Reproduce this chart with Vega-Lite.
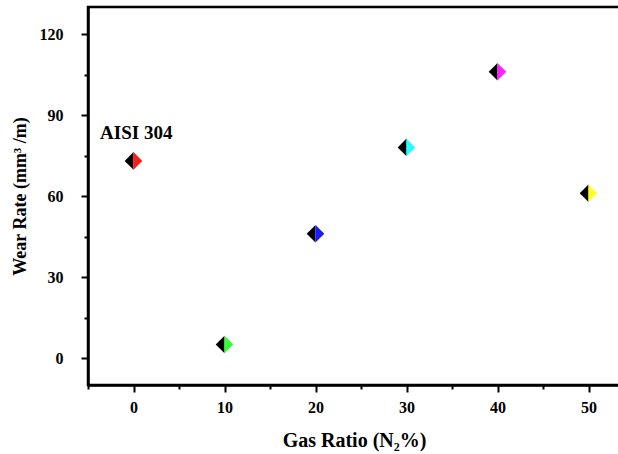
{
  "$schema": "https://vega.github.io/schema/vega-lite/v6.json",
  "width": 532,
  "height": 378,
  "autosize": "none",
  "padding": {"left": 88, "top": 7, "right": 0, "bottom": 69},
  "background": "white",
  "config": {
    "view": {"stroke": "black", "strokeWidth": 2.5},
    "font": "Liberation Serif",
    "axis": {
      "grid": false,
      "domainColor": "black",
      "domainWidth": 2.5,
      "tickColor": "black",
      "tickWidth": 2,
      "labelFont": "Liberation Serif",
      "labelFontWeight": "bold",
      "labelFontSize": 16,
      "labelColor": "black",
      "titleFont": "Liberation Serif",
      "titleFontWeight": "bold",
      "titleColor": "black"
    }
  },
  "datasets": {
    "pts": [
      {"ratio": 0, "rate": 73, "sample": "0"},
      {"ratio": 10, "rate": 5, "sample": "10"},
      {"ratio": 20, "rate": 46, "sample": "20"},
      {"ratio": 30, "rate": 78, "sample": "30"},
      {"ratio": 40, "rate": 106, "sample": "40"},
      {"ratio": 50, "rate": 61, "sample": "50"}
    ],
    "notes": [
      {"ratio": 0.3, "rate": 83.5, "label": "AISI 304"}
    ]
  },
  "layer": [
    {
      "data": {"name": "pts"},
      "mark": {"type": "point", "filled": true, "shape": "M0,-1L0,1L-1,0Z", "size": 310, "color": "black", "opacity": 1},
      "encoding": {
        "x": {
          "field": "ratio", "type": "quantitative",
          "scale": {"domain": [-5, 53.46], "nice": false, "zero": false},
          "axis": {
            "title": "Gas Ratio (N₂%)",
            "titleFontSize": 20,
            "values": [-5, 0, 5, 10, 15, 20, 25, 30, 35, 40, 45, 50],
            "labelExpr": "datum.value % 10 === 0 ? datum.label : ''",
            "tickSize": {"condition": {"test": "datum.value % 10 === 0", "value": 7}, "value": 4},
            "labelPadding": 7,
            "titlePadding": 15
          }
        },
        "y": {
          "field": "rate", "type": "quantitative",
          "scale": {"domain": [-10, 130], "nice": false, "zero": false},
          "axis": {
            "title": "Wear Rate (mm³ /m)",
            "titleFontSize": 18,
            "values": [0, 15, 30, 45, 60, 75, 90, 105, 120],
            "labelExpr": "datum.value % 30 === 0 ? datum.label : ''",
            "tickSize": {"condition": {"test": "datum.value % 30 === 0", "value": 7}, "value": 4},
            "labelPadding": 18,
            "titlePadding": 10
          }
        }
      }
    },
    {
      "data": {"name": "pts"},
      "mark": {"type": "point", "filled": true, "shape": "M0,-1L1,0L0,1Z", "size": 310, "opacity": 1},
      "encoding": {
        "x": {"field": "ratio", "type": "quantitative"},
        "y": {"field": "rate", "type": "quantitative"},
        "color": {
          "field": "sample", "type": "nominal",
          "scale": {"domain": ["0", "10", "20", "30", "40", "50"], "range": ["#ff1a1a", "#33ff33", "#1a1aff", "#22ffff", "#ff22ff", "#ffff22"]},
          "legend": null
        }
      }
    },
    {
      "data": {"name": "notes"},
      "mark": {"type": "text", "font": "Liberation Serif", "fontWeight": "bold", "fontSize": 19, "color": "black"},
      "encoding": {
        "x": {"field": "ratio", "type": "quantitative"},
        "y": {"field": "rate", "type": "quantitative"},
        "text": {"field": "label"}
      }
    }
  ]
}
